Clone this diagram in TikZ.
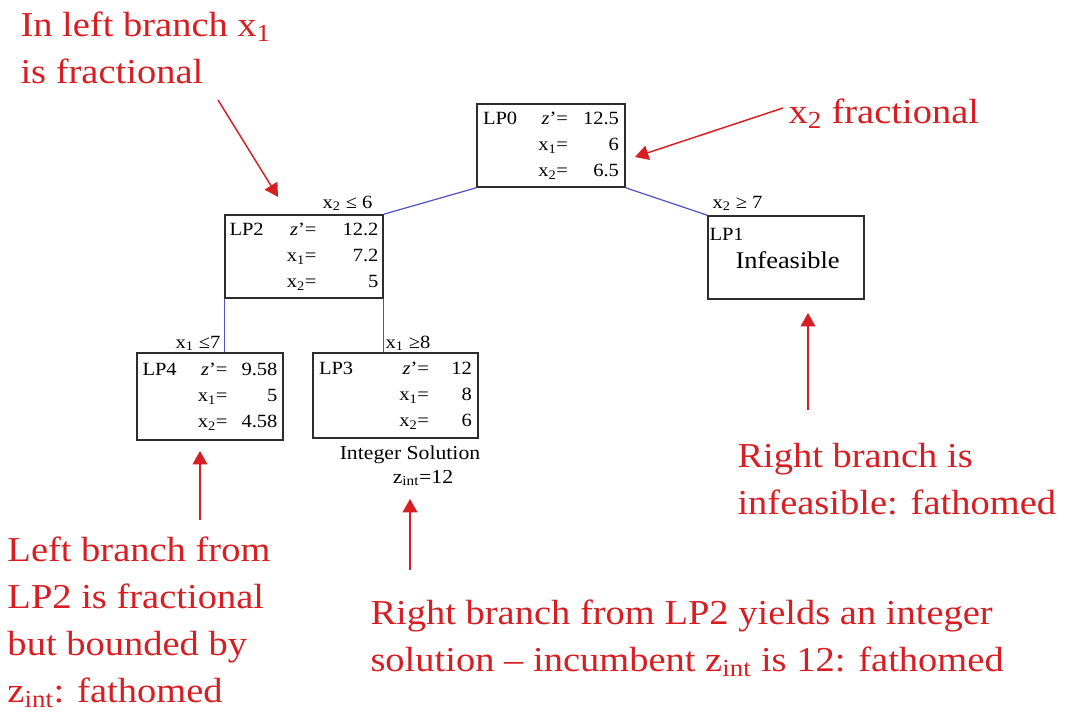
\documentclass[tikz,border=0pt]{standalone}
\usepackage{fontspec}
\setmainfont[FakeStretch=1.1]{Liberation Serif}
\usepackage{array}
\usetikzlibrary{arrows.meta}
\setlength{\tabcolsep}{0pt}
\newcolumntype{L}[1]{>{\raggedright\arraybackslash}p{#1}}
\newcolumntype{R}[1]{>{\raggedleft\arraybackslash}p{#1}}
\definecolor{notered}{RGB}{215,30,35}
\definecolor{cutblue}{RGB}{80,80,200}
\definecolor{boxline}{RGB}{45,45,45}
\tikzset{every picture/.style={line width=0.75pt}}
\tikzset{
  lpbox/.style={draw=boxline, line width=1.2pt, inner sep=0pt, font=\fontsize{14}{19.5}\selectfont},
  cut/.style={draw=cutblue, line width=0.9pt},
  cutlabel/.style={inner sep=0pt, font=\fontsize{14}{16}\selectfont},
  note/.style={text=notered, inner sep=0pt, align=left, anchor=north west, font=\fontsize{26.25}{35.25}\selectfont},
  pointer/.style={draw=notered, line width=1.1pt, -{Triangle[length=10pt,width=11pt]}}
}

\begin{document}
\begin{tikzpicture}[x=0.75pt,y=0.75pt,yscale=-1,xscale=1]
\path[use as bounding box] (0,0) rectangle (1065,721);

%LP boxes
\node[lpbox, minimum width=111pt, minimum height=62.25pt] (lp0) at (551,145.5) {\begin{tabular}{L{28pt}R{35.75pt}R{38.25pt}}LP0 & \textit{z}'= & 12.5\\ & x\textsubscript{1}= & 6\\ & x\textsubscript{2}= & 6.5\end{tabular}};
\node[lpbox, minimum width=118.5pt, minimum height=62.25pt] (lp2) at (304,256.5) {\begin{tabular}{L{28pt}R{37.25pt}R{46.5pt}}LP2 & \textit{z}'= & 12.2\\ & x\textsubscript{1}= & 7.2\\ & x\textsubscript{2}= & 5\end{tabular}};
\node[lpbox, minimum width=117pt, minimum height=62.25pt] (lp1) at (786,257.5) {};
\node[lpbox, minimum width=109.5pt, minimum height=65.25pt] (lp4) at (210,396.5) {\begin{tabular}{L{28pt}R{35.75pt}R{37.5pt}}LP4 & \textit{z}'= & 9.58\\ & x\textsubscript{1}= & 5\\ & x\textsubscript{2}= & 4.58\end{tabular}};
\node[lpbox, minimum width=123.75pt, minimum height=63.75pt] (lp3) at (395.5,395.5) {\begin{tabular}{L{28pt}R{54.5pt}R{32.25pt}}LP3 & \textit{z}'= & 12\\ & x\textsubscript{1}= & 8\\ & x\textsubscript{2}= & 6\end{tabular}};

%LP1 text
\node[cutlabel, anchor=base west] (lp1name) at (709,240) {LP1};
\node[inner sep=0pt, font=\fontsize{18}{20}\selectfont, anchor=base west] (lp1state) at (735,268) {Infeasible};

%branches
\draw[cut] (lp0.south west) -- (lp2.north east);
\draw[cut] (lp0.south east) -- (lp1.north west);
\draw[cut] (lp2.south west) -- (lp2.south west |- lp4.north);
\draw[cut] (lp2.south east) -- (lp2.south east |- lp3.north);

%branch labels
\node[cutlabel, anchor=base east] (cutleA) at (373,208) {x\textsubscript{2} ≤ 6};
\node[cutlabel, anchor=base west] (cutgeA) at (712,208) {x\textsubscript{2} ≥ 7};
\node[cutlabel, anchor=base east] (cutleB) at (221,348) {x\textsubscript{1} ≤7};
\node[cutlabel, anchor=base west] (cutgeB) at (385,348) {x\textsubscript{1} ≥8};

%integer solution
\node[inner sep=0pt, font=\fontsize{14.8}{17}\selectfont, anchor=base] (intsol) at (410,459) {Integer Solution};
\node[inner sep=0pt, font=\fontsize{14.8}{17}\selectfont, anchor=base] (zint) at (423,483) {z\textsubscript{int}=12};

%notes
\node[note] (noteA) at (20,11) {In left branch x\textsubscript{1}\\is fractional};
\node[note] (noteB) at (788,98) {x\textsubscript{2} fractional};
\node[note] (noteC) at (737,443) {Right branch is\\infeasible: fathomed};
\node[note] (noteD) at (7,536) {Left branch from\\LP2 is fractional\\but bounded by\\z\textsubscript{int}: fathomed};
\node[note] (noteE) at (370,599) {Right branch from LP2 yields an integer\\solution – incumbent z\textsubscript{int} is 12: fathomed};

%pointers
\coordinate (tailA) at (218,100);
\coordinate (tipA) at (278,197);
\coordinate (tailB) at (783,108);
\coordinate (tipB) at (635,157);
\coordinate (tailC) at (808,410);
\coordinate (tipC) at (808,313);
\coordinate (tailD) at (200,520);
\coordinate (tipD) at (200,451);
\coordinate (tailE) at (410,570);
\coordinate (tipE) at (410,499);
\draw[pointer] (tailA) -- (tipA);
\draw[pointer] (tailB) -- (tipB);
\draw[pointer] (tailC) -- (tipC);
\draw[pointer] (tailD) -- (tipD);
\draw[pointer] (tailE) -- (tipE);

\end{tikzpicture}
\end{document}
